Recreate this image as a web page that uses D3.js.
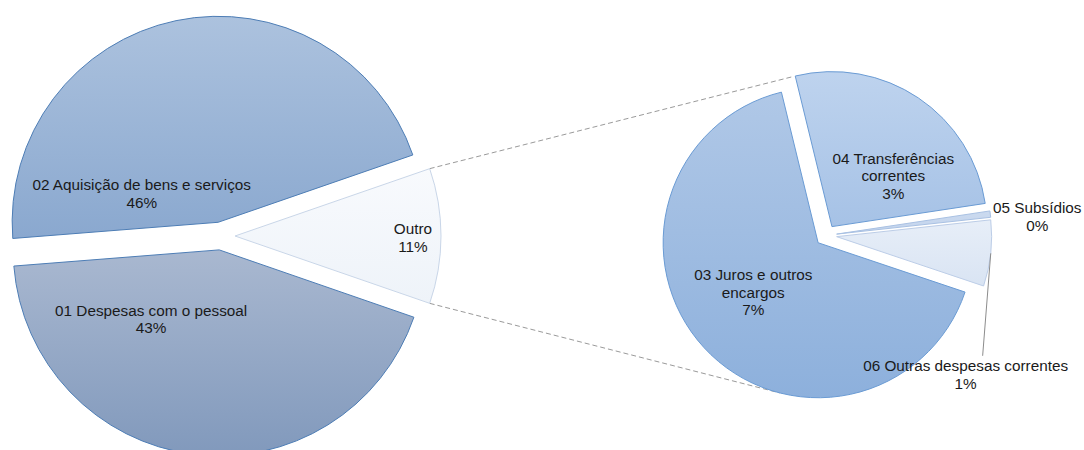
<!DOCTYPE html>
<html><head><meta charset="utf-8">
<script src="https://cdn.jsdelivr.net/npm/d3@7"></script>
<style>body{margin:0;background:#fff;overflow:hidden}</style>
</head><body><svg id="c" width="1084" height="450"></svg>
<script>
// ---- data ----
const leftCategories = ["01 Despesas com o pessoal", "02 Aquisição de bens e serviços"];
const leftValues = [43.45, 45.95];
const otherCategory = "Outro";
const rightCategories = ["03 Juros e outros encargos", "04 Transferências correntes", "05 Subsídios", "06 Outras despesas correntes"];
const rightValues = [7.0, 2.8, 0.07, 0.73];

// ---- presentation ----
const wrap = {
  "03 Juros e outros encargos": ["03 Juros e outros", "encargos"],
  "04 Transferências correntes": ["04 Transferências", "correntes"]
};
const styles = {
  "01 Despesas com o pessoal": {top: "#a9b8d0", bot: "#8199bc", stroke: "#4d7db5"},
  "02 Aquisição de bens e serviços": {top: "#acc2de", bot: "#8aa8cf", stroke: "#4d7db5"},
  "Outro": {top: "#f8fafd", bot: "#eef3f9", stroke: "#c9d6e8"},
  "03 Juros e outros encargos": {top: "#b0c8e7", bot: "#8db0dc", stroke: "#6a9bd4"},
  "04 Transferências correntes": {top: "#bed3ee", bot: "#a6c2e6", stroke: "#6a9bd4"},
  "05 Subsídios": {top: "#cbdaef", bot: "#c3d4ed", stroke: "#a9c1e3"},
  "06 Outras despesas correntes": {top: "#e7eef8", bot: "#d9e4f3", stroke: "#bccde7"}
};
// label anchor (text-block centre) in radius units from the pie centre
const labelPos = {
  "01 Despesas com o pessoal": [-0.339, 0.403],
  "02 Aquisição de bens e serviços": [-0.385, -0.206],
  "Outro": [0.932, 0.007],
  "03 Juros e outros encargos": [-0.469, 0.366],
  "04 Transferências correntes": [0.434, -0.386],
  "05 Subsídios": [1.363, -0.123],
  "06 Outras despesas correntes": [0.901, 0.897]
};
const L = {cx: 221, cy: 236, r: 206, explode: 14};
const R = {cx: 826, cy: 235.5, r: 155, explode: 10.7};
const rightStart = -13.7 * Math.PI / 180;
const lineH = 17.5;

const svg = d3.select("#c");
const defs = svg.append("defs");
Object.entries(styles).forEach(([k, s], i) => {
  const g = defs.append("linearGradient").attr("id", "g" + i).attr("x1", 0).attr("y1", 0).attr("x2", 0).attr("y2", 1);
  g.append("stop").attr("offset", 0).attr("stop-color", s.top);
  g.append("stop").attr("offset", 1).attr("stop-color", s.bot);
  s.grad = "url(#g" + i + ")";
});

const otherValue = d3.sum(rightValues);
const total = d3.sum(leftValues) + otherValue;
const fmt = v => Math.round(v / total * 100) + "%";

// left pie: clockwise from Outro's start: Outro, 01, 02
const leftData = [{name: otherCategory, value: otherValue}]
  .concat(leftCategories.map((c, i) => ({name: c, value: leftValues[i]})));
const otherAngle = 2 * Math.PI * otherValue / total;
const leftStart = Math.PI / 2 - otherAngle / 2;
const leftArcs = d3.pie().sort(null).value(d => d.value)
  .startAngle(leftStart).endAngle(leftStart + 2 * Math.PI)(leftData);

// right pie: clockwise 04, 05, 06, 03
const rightOrder = [1, 2, 3, 0];
const rightData = rightOrder.map(i => ({name: rightCategories[i], value: rightValues[i]}));
const rightArcs = d3.pie().sort(null).value(d => d.value)
  .startAngle(rightStart).endAngle(rightStart + 2 * Math.PI)(rightData);

function offs(a, P) {
  const m = (a.startAngle + a.endAngle) / 2;
  return [P.cx + Math.sin(m) * P.explode, P.cy - Math.cos(m) * P.explode];
}
function pt(c, r, ang) { return [c[0] + Math.sin(ang) * r, c[1] - Math.cos(ang) * r]; }
function tangents(p, c, r) {
  const dx = p[0] - c[0], dy = p[1] - c[1];
  const d = Math.hypot(dx, dy);
  const base = Math.atan2(dy, dx), off = Math.acos(r / d);
  return [base + off, base - off].map(t => [c[0] + r * Math.cos(t), c[1] + r * Math.sin(t)]);
}

// connector lines (behind pies)
const otherArc = leftArcs[0];
const oc = offs(otherArc, L);
const pTop = pt(oc, L.r, otherArc.startAngle);
const pBot = pt(oc, L.r, otherArc.endAngle);
const a04 = rightArcs.find(a => a.data.name === rightCategories[1]);
const a03 = rightArcs.find(a => a.data.name === rightCategories[0]);
const tTop = tangents(pTop, offs(a04, R), R.r).sort((a, b) => a[1] - b[1])[0];
const tBot = tangents(pBot, offs(a03, R), R.r).sort((a, b) => b[1] - a[1])[0];
[[pTop, tTop], [pBot, tBot]].forEach(([a, b]) => {
  svg.append("line").attr("x1", a[0]).attr("y1", a[1]).attr("x2", b[0]).attr("y2", b[1])
    .attr("stroke", "#9a9a9a").attr("stroke-width", 1).attr("stroke-dasharray", "5,3");
});

function drawPie(arcs, P) {
  const arc = d3.arc().innerRadius(0).outerRadius(P.r);
  const g = svg.append("g");
  arcs.forEach(a => {
    const o = offs(a, P);
    const s = styles[a.data.name];
    g.append("path").attr("d", arc(a)).attr("transform", `translate(${o[0]},${o[1]})`)
      .attr("fill", s.grad).attr("stroke", s.stroke).attr("stroke-width", 1).attr("stroke-linejoin", "round");
  });
}
drawPie(leftArcs, L);
drawPie(rightArcs, R);

// leader line for 06
const a06 = rightArcs.find(a => a.data.name === rightCategories[3]);
const lp06 = labelPos[rightCategories[3]];
const s06 = pt(offs(a06, R), R.r, (a06.startAngle + a06.endAngle) / 2);
const lx06 = R.cx + lp06[0] * R.r, ly06 = R.cy + lp06[1] * R.r;
svg.append("line").attr("x1", s06[0]).attr("y1", s06[1]).attr("x2", lx06 + 17).attr("y2", ly06 - lineH / 2 - 10)
  .attr("stroke", "#8c8c8c").attr("stroke-width", 1);

function drawLabels(arcs, P) {
  arcs.forEach(a => {
    const name = a.data.name;
    const lines = (wrap[name] || [name]).concat([fmt(a.data.value)]);
    const p = labelPos[name];
    const x = P.cx + p[0] * P.r, y = P.cy + p[1] * P.r;
    const t = svg.append("text").attr("text-anchor", "middle")
      .attr("font-family", "Liberation Sans, Arial, sans-serif").attr("font-size", "15.3px").attr("fill", "#1a1a1a");
    const y0 = y - (lines.length - 1) * lineH / 2;
    lines.forEach((ln, i) => {
      t.append("tspan").attr("x", x).attr("y", y0 + i * lineH).attr("dy", "0.35em").text(ln);
    });
  });
}
drawLabels(leftArcs, L);
drawLabels(rightArcs, R);
</script></body></html>
